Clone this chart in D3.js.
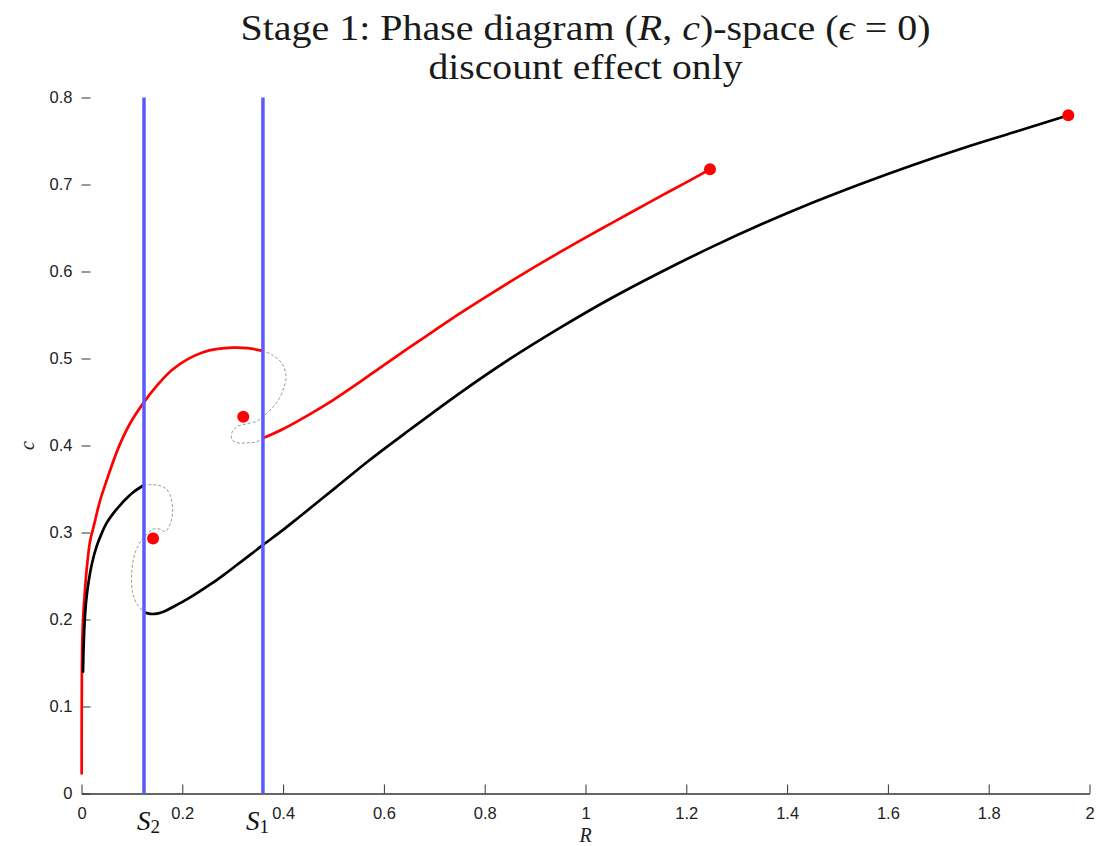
<!DOCTYPE html>
<html>
<head>
<meta charset="utf-8">
<script src="https://cdn.jsdelivr.net/npm/d3@7"></script>
<style>
  html, body { margin: 0; padding: 0; background: #fff; }
  svg { display: block; }
</style>
</head>
<body>
<svg id="chart" width="1099" height="846"></svg>
<script>
// ---------------- DATA ----------------
const xTicks = [0, 0.2, 0.4, 0.6, 0.8, 1, 1.2, 1.4, 1.6, 1.8, 2];
const yTicks = [0, 0.1, 0.2, 0.3, 0.4, 0.5, 0.6, 0.7, 0.8];
const xTickLabels = ["0", "0.2", "0.4", "0.6", "0.8", "1", "1.2", "1.4", "1.6", "1.8", "2"];
const yTickLabels = ["0", "0.1", "0.2", "0.3", "0.4", "0.5", "0.6", "0.7", "0.8"];

// separatrix positions (vertical blue lines)
const separatrixNames = ["S2", "S1"];
const separatrixR = [0.124, 0.360];

// black trajectory (solid part near origin up to S2)
const blackBranch1 = [
  [0.003, 0.140], [0.004, 0.165], [0.006, 0.195], [0.009, 0.220], [0.014, 0.243],
  [0.021, 0.265], [0.030, 0.284], [0.040, 0.299], [0.050, 0.311], [0.063, 0.322],
  [0.076, 0.331], [0.089, 0.339], [0.102, 0.346], [0.1226, 0.354]
];
// black trajectory, grey dotted spiral part
const blackSpiral = [
  [0.1226, 0.3543], [0.140, 0.355], [0.1558, 0.3537], [0.1677, 0.3503], [0.1756, 0.3434],
  [0.181, 0.3261], [0.1786, 0.3146], [0.1736, 0.3065], [0.1657, 0.3011], [0.1558, 0.3039],
  [0.1425, 0.3039], [0.1306, 0.2985], [0.1194, 0.2916], [0.1062, 0.2763], [0.0996, 0.2532],
  [0.1016, 0.2302], [0.108, 0.220], [0.1161, 0.213], [0.126, 0.209]
];
// black trajectory (solid, from S2 to far steady state)
const blackBranch2 = [
  [0.126, 0.208], [0.136, 0.2065], [0.150, 0.2068], [0.165, 0.2095], [0.185, 0.2155],
  [0.210, 0.2235], [0.235, 0.2325], [0.260, 0.2420], [0.285, 0.2525], [0.310, 0.2635],
  [0.335, 0.2745], [0.3607, 0.2860], [0.400, 0.3030], [0.4345, 0.3190], [0.503, 0.3510],
  [0.5724, 0.3836], [0.650, 0.4175], [0.750, 0.4600], [0.850, 0.4995], [0.950, 0.5355],
  [1.050, 0.5690], [1.150, 0.5995], [1.250, 0.6280], [1.350, 0.6545], [1.450, 0.6790],
  [1.550, 0.7015], [1.650, 0.7225], [1.750, 0.7420], [1.850, 0.7600], [1.958, 0.7796]
];

// red trajectory (solid part from origin to S1)
const redBranch1 = [
  [0.0003, 0.023], [0.0004, 0.080], [0.0008, 0.140], [0.0018, 0.180], [0.0036, 0.205],
  [0.007, 0.235], [0.011, 0.262], [0.017, 0.290], [0.025, 0.309], [0.036, 0.335],
  [0.050, 0.360], [0.073, 0.397], [0.096, 0.425], [0.123, 0.449], [0.150, 0.469],
  [0.180, 0.487], [0.210, 0.499], [0.240, 0.507], [0.270, 0.511], [0.300, 0.5125],
  [0.330, 0.512], [0.3575, 0.509]
];
// red trajectory, grey dotted spiral part
const redSpiral = [
  [0.3575, 0.509], [0.377, 0.5045], [0.397, 0.495], [0.406, 0.4795], [0.400, 0.464],
  [0.387, 0.449], [0.367, 0.437], [0.348, 0.428], [0.328, 0.425], [0.308, 0.4215],
  [0.298, 0.414], [0.2986, 0.4067], [0.3105, 0.403], [0.328, 0.403], [0.346, 0.404],
  [0.3607, 0.4086]
];
// red trajectory (solid, from S1 to its steady state)
const redBranch2 = [
  [0.3607, 0.4086], [0.400, 0.4190], [0.450, 0.4350], [0.500, 0.4525], [0.550, 0.4720],
  [0.600, 0.4925], [0.650, 0.5125], [0.700, 0.5320], [0.750, 0.5515], [0.800, 0.5700],
  [0.850, 0.5880], [0.900, 0.6055], [0.950, 0.6225], [1.000, 0.6390], [1.050, 0.6550],
  [1.100, 0.6710], [1.150, 0.6870], [1.200, 0.7025], [1.247, 0.7175]
];

// steady states (red dots)
const steadyStates = [
  [1.958, 0.7796], [1.247, 0.7175], [0.321, 0.433], [0.142, 0.293]
];

// ---------------- DRAW ----------------
const svg = d3.select("#chart");
const x = d3.scaleLinear().domain([0, 2]).range([81.5, 1089.5]);
const y = d3.scaleLinear().domain([0, 0.8]).range([793.5, 97.5]);

const line = d3.line()
  .x(d => x(d[0]))
  .y(d => y(d[1]))
  .curve(d3.curveCatmullRom.alpha(0.5));

// title (two lines, serif, widths matched to the LaTeX rendering)
const titleFont = "'Liberation Serif', 'DejaVu Serif', serif";
const title1 = svg.append("text")
  .attr("x", x(1)).attr("y", 40)
  .attr("text-anchor", "middle")
  .attr("textLength", 690).attr("lengthAdjust", "spacingAndGlyphs")
  .style("font-family", titleFont).style("font-size", "35px")
  .attr("fill", "#1a1a1a");
title1.append("tspan").text("Stage 1: Phase diagram (");
title1.append("tspan").style("font-style", "italic").text("R");
title1.append("tspan").text(", ");
title1.append("tspan").style("font-style", "italic").text("c");
title1.append("tspan").text(")-space (");
title1.append("tspan").style("font-style", "italic").text("\u03F5");
title1.append("tspan").text(" = 0)");
svg.append("text")
  .attr("x", x(1)).attr("y", 79)
  .attr("text-anchor", "middle")
  .attr("textLength", 314).attr("lengthAdjust", "spacingAndGlyphs")
  .style("font-family", titleFont).style("font-size", "35px")
  .attr("fill", "#1a1a1a")
  .text("discount effect only");

// axes
const xAxis = d3.axisBottom(x)
  .tickValues(xTicks)
  .tickFormat((d, i) => xTickLabels[i])
  .tickSizeInner(-9)
  .tickSizeOuter(0)
  .tickPadding(14);
const gx = svg.append("g").attr("transform", `translate(0,${y(0)})`).call(xAxis);
gx.select(".domain").attr("stroke", "#333").attr("stroke-width", 1.4);
gx.selectAll(".tick line").attr("stroke", "#333");
gx.selectAll(".tick text")
  .style("font-family", "'Liberation Sans', Arial, sans-serif")
  .style("font-size", "16.5px")
  .attr("fill", "#222");

const yAxis = d3.axisLeft(y)
  .tickValues(yTicks)
  .tickFormat((d, i) => yTickLabels[i])
  .tickSizeInner(-9)
  .tickSizeOuter(0)
  .tickPadding(9);
const gy = svg.append("g").attr("transform", `translate(${x(0)},0)`).call(yAxis);
gy.select(".domain").remove();
gy.selectAll(".tick line").attr("stroke", "#333");
gy.selectAll(".tick text")
  .style("font-family", "'Liberation Sans', Arial, sans-serif")
  .style("font-size", "16.5px")
  .attr("fill", "#222");

// axis labels
svg.append("text")
  .attr("x", x(1)).attr("y", 842)
  .attr("text-anchor", "middle")
  .style("font-family", "'Liberation Serif', serif")
  .style("font-style", "italic")
  .style("font-size", "20px")
  .attr("fill", "#222")
  .text("R");
svg.append("text")
  .attr("transform", `translate(34,${y(0.4)}) rotate(-90)`)
  .attr("text-anchor", "middle")
  .style("font-family", "'Liberation Serif', serif")
  .style("font-style", "italic")
  .style("font-size", "20px")
  .attr("fill", "#222")
  .text("c");

// curves
const solid = [
  { d: redBranch1, c: "#ff0000" }, { d: redBranch2, c: "#ff0000" },
  { d: blackBranch1, c: "#000000" }, { d: blackBranch2, c: "#000000" }
];
[blackSpiral, redSpiral].forEach(d => {
  svg.append("path").datum(d).attr("d", line)
    .attr("fill", "none").attr("stroke", "#9a9a9a")
    .attr("stroke-width", 1).attr("stroke-dasharray", "3,2");
});
solid.forEach(s => {
  svg.append("path").datum(s.d).attr("d", line)
    .attr("fill", "none").attr("stroke", s.c)
    .attr("stroke-width", 2.7).attr("stroke-linejoin", "round").attr("stroke-linecap", "round");
});

// separatrices
svg.selectAll(".sep").data(separatrixR).enter().append("line")
  .attr("x1", d => x(d)).attr("x2", d => x(d))
  .attr("y1", y(0)).attr("y2", y(0.8))
  .attr("stroke", "#5a5aff").attr("stroke-width", 3.5);

// separatrix labels
const sepLabelOffset = [-7, -17];
separatrixR.forEach((r, i) => {
  const t = svg.append("text")
    .attr("x", x(r) + sepLabelOffset[i]).attr("y", 830)
    .style("font-family", "'Liberation Serif', serif")
    .attr("fill", "#111");
  t.append("tspan").style("font-style", "italic").style("font-size", "27px").text("S");
  t.append("tspan").attr("dy", 3).style("font-size", "19px").text(separatrixNames[i].slice(1));
});

// steady states
svg.selectAll(".ss").data(steadyStates).enter().append("circle")
  .attr("cx", d => x(d[0])).attr("cy", d => y(d[1]))
  .attr("r", 6).attr("fill", "#ff0000");
</script>
</body>
</html>
